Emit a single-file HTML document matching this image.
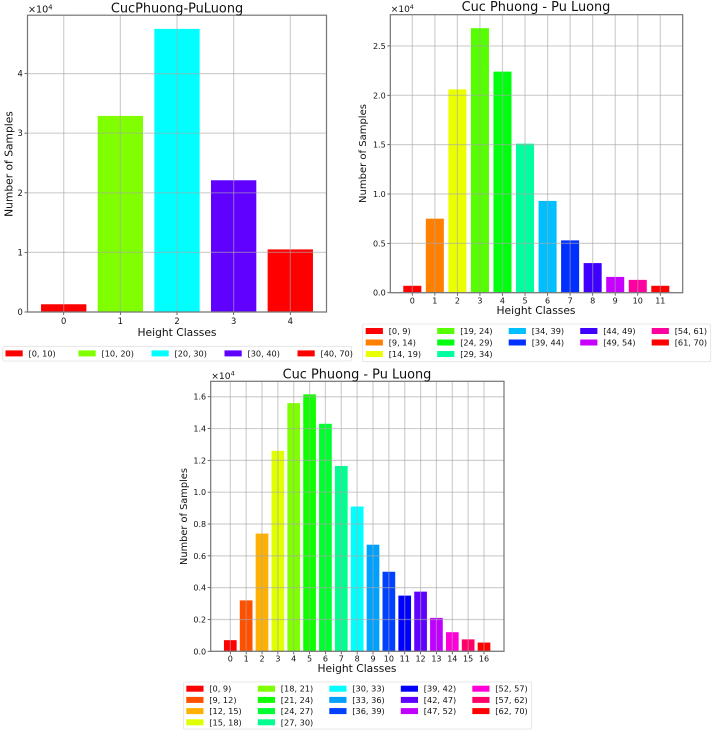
<!DOCTYPE html>
<html lang="en">
<head>
<meta charset="utf-8">
<title>Height class distributions</title>
<style>
html,body{margin:0;padding:0;background:#fff;width:713px;height:733px;overflow:hidden}
svg{display:block;filter:blur(0.35px)}
text{font-family:"DejaVu Sans","Liberation Sans",sans-serif;fill:#111}
</style>
</head>
<body>
<svg id="fig" xmlns="http://www.w3.org/2000/svg" width="713" height="733" viewBox="0 0 713 733"></svg>
<script>
// Chart A
const aValues = [0.13, 3.29, 4.75, 2.21, 1.05];
const aCategories = ["0", "1", "2", "3", "4"];
const aLegend = ["[0, 10)", "[10, 20)", "[20, 30)", "[30, 40)", "[40, 70)"];
const aColors = ["#ff0000", "#7fff00", "#00ffff", "#6000ff", "#ff0000"];
const aTicks = [0, 1, 2, 3, 4];
const aTickLabels = ["0", "1", "2", "3", "4"];
// Chart B
const bValues = [0.07, 0.75, 2.06, 2.68, 2.24, 1.51, 0.93, 0.53, 0.30, 0.16, 0.13, 0.07];
const bCategories = ["0", "1", "2", "3", "4", "5", "6", "7", "8", "9", "10", "11"];
const bLegend = ["[0, 9)", "[9, 14)", "[14, 19)", "[19, 24)", "[24, 29)", "[29, 34)", "[34, 39)", "[39, 44)", "[44, 49)", "[49, 54)", "[54, 61)", "[61, 70)"];
const bColors = ["#ff0000", "#ff7f00", "#eaff00", "#55ff00", "#00ff0f", "#00ffa0", "#00bfff", "#0030ff", "#4000ff", "#c800ff", "#ff00a0", "#ff0000"];
const bTicks = [0, 0.5, 1, 1.5, 2, 2.5];
const bTickLabels = ["0.0", "0.5", "1.0", "1.5", "2.0", "2.5"];
// Chart C
const cValues = [0.07, 0.32, 0.74, 1.26, 1.56, 1.615, 1.43, 1.165, 0.91, 0.67, 0.50, 0.35, 0.375, 0.21, 0.12, 0.075, 0.055];
const cCategories = ["0", "1", "2", "3", "4", "5", "6", "7", "8", "9", "10", "11", "12", "13", "14", "15", "16"];
const cLegend = ["[0, 9)", "[9, 12)", "[12, 15)", "[15, 18)", "[18, 21)", "[21, 24)", "[24, 27)", "[27, 30)", "[30, 33)", "[33, 36)", "[36, 39)", "[39, 42)", "[42, 47)", "[47, 52)", "[52, 57)", "[57, 62)", "[62, 70)"];
const cColors = ["#ff0000", "#ff5000", "#ffb000", "#e0ff00", "#80ff00", "#10ff00", "#00ff30", "#00ff90", "#00ffff", "#00a0ff", "#0040ff", "#0000ff", "#6000ff", "#c000ff", "#ff00d8", "#ff0068", "#ff0000"];
const cTicks = [0, 0.2, 0.4, 0.6, 0.8, 1.0, 1.2, 1.4, 1.6];
const cTickLabels = ["0.0", "0.2", "0.4", "0.6", "0.8", "1.0", "1.2", "1.4", "1.6"];

const NS = "http://www.w3.org/2000/svg";
const fig = document.getElementById("fig");

function mk(parent, tag, attrs, txt) {
  const n = document.createElementNS(NS, tag);
  for (const k in attrs) n.setAttribute(k, attrs[k]);
  if (txt !== undefined) n.textContent = txt;
  parent.appendChild(n);
  return n;
}

function drawChart(cfg) {
  const id = cfg.id;
  const g = mk(fig, "g", {});
  
  

  // axis functions: position in category units and value units
  const xScale = function (i) { return cfg.x0 + (cfg.x1 - cfg.x0) * i / (cfg.categories.length - 1); };
  const yScale = function (v) { return cfg.yZero - v * cfg.yUnit; };
  const step = cfg.categories.length > 1 ? (cfg.x1 - cfg.x0) / (cfg.categories.length - 1) : 1;

  const plot = mk(g, "rect", {x: cfg.left, y: cfg.top, width: cfg.right - cfg.left, height: cfg.yZero - cfg.top, fill: "#fff"});
  
  

  cfg.values.forEach(function (v, i) {
    const bar = mk(g, "rect", {x: xScale(i) - step * 0.4, y: yScale(v), width: step * 0.8, height: yScale(0) - yScale(v), fill: cfg.colors[i]});
    
    
  });

  cfg.categories.forEach(function (c, i) {
    const px = xScale(i);
    const line = mk(g, "line", {x1: px, x2: px, y1: cfg.top, y2: cfg.yZero, stroke: "#a8a8a8", "stroke-opacity": 0.55, "stroke-width": 1.2});
    
    
    const tick = mk(g, "line", {x1: px, x2: px, y1: cfg.yZero, y2: cfg.yZero + 3, stroke: "#444", "stroke-width": 0.8});
    
    
    const lab = mk(g, "text", {x: px, y: cfg.yZero + cfg.tickOffset, "text-anchor": "middle", "font-size": cfg.tickSize}, c);
    
    
  });

  cfg.ticks.forEach(function (v, i) {
    const py = yScale(v);
    const line = mk(g, "line", {x1: cfg.left, x2: cfg.right, y1: py, y2: py, stroke: "#a8a8a8", "stroke-opacity": 0.55, "stroke-width": 1.2});
    
    
    const tick = mk(g, "line", {x1: cfg.left - 3, x2: cfg.left, y1: py, y2: py, stroke: "#444", "stroke-width": 0.8});
    
    
    const lab = mk(g, "text", {x: cfg.left - 4.6, y: py + 3, "text-anchor": "end", "font-size": cfg.tickSize}, cfg.tickLabels[i]);
    
    
  });

  const frame = mk(g, "rect", {x: cfg.left, y: cfg.top, width: cfg.right - cfg.left, height: cfg.yZero - cfg.top, fill: "none", stroke: "#757575", "stroke-width": 1.2});
  
  

  const title = mk(g, "text", {x: cfg.titleX, y: cfg.titleY, "text-anchor": "middle", "font-size": 12.9}, cfg.title);
  
  

  const off = mk(g, "text", {x: cfg.left + 0.5, y: cfg.top - 2.5, "font-size": cfg.offsetSize});
  
  
  off.textContent = "×10";
  const sup = mk(off, "tspan", {dy: -3.4, "font-size": cfg.offsetSize * 0.7}, "4");
  
  

  const xt = mk(g, "text", {x: cfg.titleX, y: cfg.xLabelY, "text-anchor": "middle", "font-size": 10.7}, "Height Classes");
  
  

  const yt = mk(g, "text", {x: 0, y: 0, "text-anchor": "middle", "font-size": cfg.yLabelSize, transform: "translate(" + cfg.yLabelX + "," + cfg.yLabelY + ") rotate(-90)"}, "Number of Samples");
  
  

  const leg = mk(g, "g", {});
  
  
  const box = mk(leg, "rect", {x: cfg.lg.x, y: cfg.lg.y, width: cfg.lg.w, height: cfg.lg.h, rx: 1.5, fill: "#fff", stroke: "#e2e2e2", "stroke-width": 0.8});
  
  
  let col = 0, row = 0;
  cfg.legend.forEach(function (label, i) {
    const lx = cfg.lg.px + col * cfg.lg.colStep;
    const ly = cfg.lg.ry + row * cfg.lg.rowStep;
    const p = mk(leg, "rect", {x: lx, y: ly - 3, width: 17.2, height: 6, fill: cfg.colors[i]});
    
    
    const t = mk(leg, "text", {x: lx + 23, y: ly + 3, "font-size": 8.2}, label);
    
    
    row++;
    if (row >= cfg.lg.colRows[col]) { row = 0; col++; }
  });
}

drawChart({id: "a", title: "CucPhuong-PuLuong", values: aValues, categories: aCategories, legend: aLegend, colors: aColors, ticks: aTicks, tickLabels: aTickLabels,
  left: 27.5, right: 326.5, top: 15.2, yZero: 312, yUnit: 59.6, x0: 63.7, x1: 290.3, titleX: 177, titleY: 12.5, xLabelY: 336,
  tickOffset: 12.2, tickSize: 8.4, offsetSize: 9.6,
  yLabelX: 12.5, yLabelY: 164, yLabelSize: 10.7,
  lg: {x: 2.7, y: 346.3, w: 349, h: 14.7, px: 5.5, ry: 353.4, colStep: 73, rowStep: 11.3, colRows: [1, 1, 1, 1, 1]}});

drawChart({id: "b", title: "Cuc Phuong - Pu Luong", values: bValues, categories: bCategories, legend: bLegend, colors: bColors, ticks: bTicks, tickLabels: bTickLabels,
  left: 390.3, right: 682.7, top: 14.7, yZero: 292.7, yUnit: 98.7, x0: 412.3, x1: 660.3, titleX: 536, titleY: 11, xLabelY: 314,
  tickOffset: 11, tickSize: 8, offsetSize: 9,
  yLabelX: 366, yLabelY: 153.5, yLabelSize: 10,
  lg: {x: 362.7, y: 324, w: 348, h: 37.7, px: 365.7, ry: 331, colStep: 71.5, rowStep: 11.5, colRows: [3, 3, 2, 2, 2]}});

drawChart({id: "c", title: "Cuc Phuong - Pu Luong", values: cValues, categories: cCategories, legend: cLegend, colors: cColors, ticks: cTicks, tickLabels: cTickLabels,
  left: 210.7, right: 504, top: 381.3, yZero: 651.3, yUnit: 159.1, x0: 230.3, x1: 484, titleX: 357, titleY: 378.3, xLabelY: 672,
  tickOffset: 10.2, tickSize: 8, offsetSize: 9.2,
  yLabelX: 187, yLabelY: 516.5, yLabelSize: 9.8,
  lg: {x: 183.3, y: 682, w: 348.4, h: 47, px: 186.3, ry: 688.7, colStep: 71.5, rowStep: 11.2, colRows: [4, 4, 3, 3, 3]}});
</script>
</body>
</html>
